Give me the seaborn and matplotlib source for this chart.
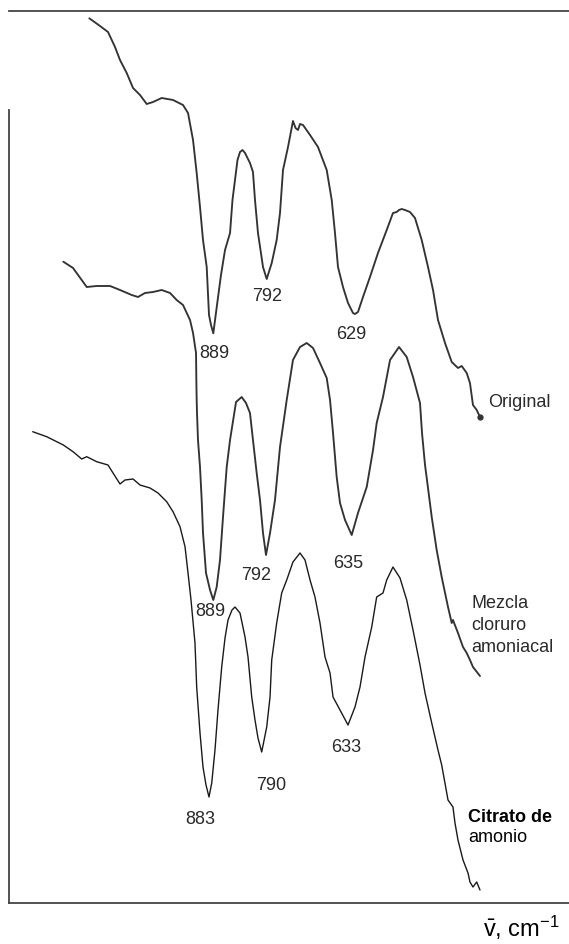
import matplotlib
matplotlib.use("Agg")
import matplotlib.pyplot as plt
import seaborn as sns
import pandas as pd

# ---------------- data (wavenumber cm-1, transmittance in arbitrary units) ----------------
orig_wn = [1116.5, 1096.9, 1082.2, 1069.4, 1060.2, 1047.9, 1036.3, 1023.5, 1011.2, 999.6,
           983.7, 962.9, 944.6, 935.4, 926.2, 919.5, 913.4, 907.9, 901.1, 896.9,
           893.2, 889.0, 882.2, 874.9, 867.5, 858.3, 853.8, 849.2, 844.6, 840.0,
           835.4, 830.8, 821.7, 816.2, 812.5, 807.0, 797.8, 791.0, 781.8, 772.7,
           766.6, 761.1, 751.9, 742.8, 738.1, 733.6, 729.9, 724.4, 711.5, 696.9,
           680.9, 671.7, 665.7, 660.2, 651.0, 641.8, 632.7, 629.0, 623.5, 614.3,
           601.5, 586.8, 570.8, 559.3, 552.5, 548.2, 543.3, 537.2, 528.1, 518.9,
           506.6, 495.0, 485.8, 476.7, 463.8, 451.5, 440.0, 433.2, 424.0, 418.0,
           412.5, 405.7, 399.6]
orig_t = [884.7, 877, 871, 856, 843, 830, 815, 808, 799, 801,
          805, 803, 798, 790, 763, 730, 696, 663, 636, 588,
          578, 569.7, 598, 628, 653, 670, 703, 723, 743, 751,
          753, 750, 740, 731, 703, 670, 636, 624, 640, 663,
          690, 733, 756, 782, 775, 773, 779, 778, 768, 756,
          733, 703, 670, 636, 616, 600, 590, 589, 591, 606,
          626, 650, 673, 690, 691, 693, 694, 693, 691, 685,
          663, 636, 613, 583, 560, 541, 535, 537, 530, 520,
          498, 493, 486]

mezcla_wn = [1164.2, 1146.4, 1130.5, 1121.3, 1103.0, 1078.5, 1060.2, 1038.7, 1027.2, 1014.3,
             999.6, 983.7, 968.4, 956.2, 944.6, 931.7, 926.2, 920.7, 920.2, 919.6,
             918.9, 917.1, 913.4, 910.3, 907.9, 902.4, 895.0, 889.0, 882.8, 876.7,
             871.2, 864.4, 858.3, 847.3, 836.9, 829.0, 821.7, 816.2, 809.4, 803.3,
             797.8, 792.3, 784.9, 775.8, 766.6, 754.3, 742.8, 729.9, 717.6, 706.0,
             693.2, 680.9, 674.8, 669.3, 662.6, 656.5, 647.3, 635.0, 623.5, 607.5,
             595.9, 589.2, 577.6, 564.7, 548.2, 534.1, 522.5, 509.7, 506.0, 500.5,
             496.9, 488.2, 479.1, 469.9, 458.3, 451.5, 449.2, 440.0, 430.8, 424.0,
             418.0, 412.5, 399.6]
mezcla_t = [641.3, 635, 623, 616, 617, 617, 613, 608, 606, 610,
            611, 613, 610, 603, 598, 583, 570, 550, 526, 505,
            490, 463, 436, 403, 370, 330, 313, 303, 316, 343,
            386, 436, 463, 501, 506, 500, 490, 463, 430, 403,
            370, 348, 370, 403, 456, 503, 543, 556, 560, 555,
            540, 525, 503, 470, 426, 400, 383, 368, 390, 416,
            453, 480, 506, 543, 556, 546, 526, 500, 470, 438,
            423, 386, 353, 326, 296, 280, 283, 270, 256, 250,
            243, 236, 227]

citrato_wn = [1220.4, 1194.7, 1164.2, 1146.4, 1130.5, 1121.3, 1103.0, 1082.2, 1073.0, 1060.2,
              1051.0, 1036.3, 1023.5, 1005.1, 990.5, 974.5, 962.9, 950.1, 940.9, 935.4,
              929.9, 922.6, 919.5, 913.4, 907.9, 902.4, 896.9, 891.9, 885.9, 880.4,
              873.6, 867.5, 862.0, 854.7, 849.2, 840.0, 830.8, 825.3, 818.5, 812.5,
              807.0, 800.2, 791.0, 784.9, 781.8, 772.7, 763.5, 754.3, 742.8, 729.9,
              720.7, 711.5, 702.4, 693.2, 684.0, 674.8, 669.3, 656.5, 641.8, 629.0,
              619.8, 610.6, 598.3, 589.2, 577.6, 570.8, 559.3, 546.4, 534.1, 522.5,
              509.7, 500.5, 488.2, 476.7, 469.9, 458.3, 449.2, 445.5, 440.0, 430.8,
              421.6, 418.0, 412.5, 405.7, 399.6]
citrato_t = [471.3, 466.3, 458, 451.3, 444, 446.3, 441.3, 438, 430, 419,
             423, 424, 418, 415, 410, 401.3, 391.3, 376.3, 356.3, 330,
             303, 260, 216, 170, 136, 118, 106, 120, 153, 193,
             236, 265, 283, 293, 296, 290, 266, 246, 206, 183,
             165, 151, 176, 206, 243, 280, 310, 323, 341, 350,
             343, 323, 306, 280, 246, 230, 206, 193, 178, 196,
             216, 246, 276, 306, 310, 323, 336, 325, 303, 273,
             238, 210, 180, 153, 138, 103, 96, 80, 63, 43,
             30, 21, 16, 21, 13]

# peak annotations: (text, wavenumber, transmittance)
peak_labels = [("889", 887.7, 549.7), ("792", 791.0, 606.0), ("629", 635.0, 568.0),
               ("889", 895.0, 291.0), ("792", 810.6, 327.0), ("635", 641.8, 340.0),
               ("883", 913.4, 83.0), ("790", 783.1, 118.0), ("633", 644.6, 156.0)]

series_names = ["Original", "Mezcla cloruro amoniacal", "Citrato de amonio"]

# ---------------- figure ----------------
sns.set_style("white")
plt.rcParams["font.family"] = ["Liberation Sans", "DejaVu Sans"]
plt.rcParams["mathtext.fontset"] = "custom"
plt.rcParams["mathtext.rm"] = "Liberation Sans"
plt.rcParams["mathtext.it"] = "Liberation Sans:italic"

fig = plt.figure(figsize=(5.69, 9.44), dpi=100)
fig.patch.set_facecolor("white")
ax = fig.add_axes([9 / 569, 41 / 944, 591 / 569, 892 / 944])
ax.set_facecolor("white")

line_col = "#333333"
df_o = pd.DataFrame({"wn": orig_wn, "T": orig_t})
df_m = pd.DataFrame({"wn": mezcla_wn, "T": mezcla_t})
df_c = pd.DataFrame({"wn": citrato_wn, "T": citrato_t})

sns.lineplot(data=df_o, x="wn", y="T", sort=False, ax=ax, color=line_col, lw=1.35)
sns.lineplot(data=df_m, x="wn", y="T", sort=False, ax=ax, color=line_col, lw=1.35)
sns.lineplot(data=df_c, x="wn", y="T", sort=False, ax=ax, color="#1a1a1a", lw=1.0)
# end dot on the original trace
ax.plot([orig_wn[-1]], [orig_t[-1]], marker="o", ms=3.5, color=line_col)

ax.set_xlim(1263.9, 179.4)
ax.set_ylim(0, 892)
ax.set_xticks([])
ax.set_yticks([])
ax.set_xlabel("")
ax.set_ylabel("")

for side in ["top", "bottom", "left"]:
    ax.spines[side].set_visible(True)
    ax.spines[side].set_color("#444444")
    ax.spines[side].set_linewidth(1.3)
ax.spines["right"].set_visible(False)
ax.spines["left"].set_bounds(0, 793)

fs = 13
txt_col = "#2a2a2a"
for lab, wn, t in peak_labels:
    ax.text(wn, t, lab, ha="center", va="center", fontsize=fs, color=txt_col)

ax.text(384.9, 500, "Original", ha="left", va="center", fontsize=fs, color=txt_col)
ax.text(414.8, 300, "Mezcla", ha="left", va="center", fontsize=fs, color=txt_col)
ax.text(414.8, 277, "cloruro", ha="left", va="center", fontsize=fs, color=txt_col)
ax.text(414.8, 255, "amoniacal", ha="left", va="center", fontsize=fs, color=txt_col)
ax.text(421.6, 86, "Citrato de", ha="left", va="center", fontsize=fs,
        fontweight="bold", color="black")
ax.text(421.6, 65, "amonio", ha="left", va="center", fontsize=fs, color="black")

ax.text(394.0, -34, r"$\bar{\mathrm{v}}$, cm$^{-1}$", ha="left", va="baseline",
        fontsize=17, color="black", clip_on=False)

fig.savefig("out.png", dpi=100, facecolor="white")
